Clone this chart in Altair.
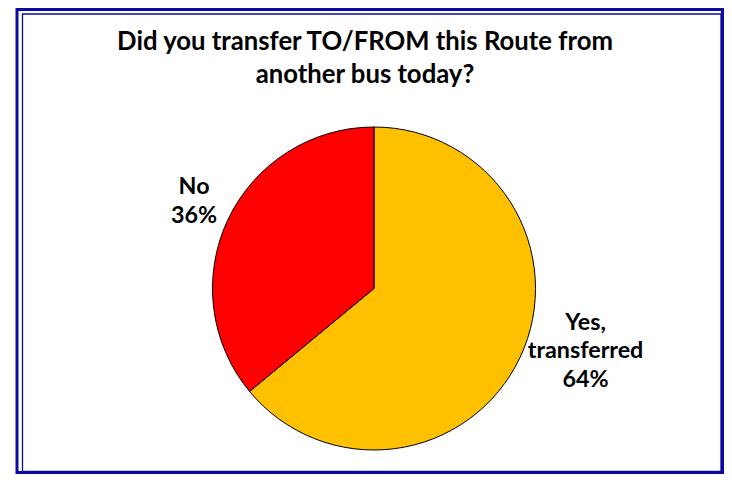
import math
import altair as alt
import pandas as pd

# ---- data ----
categories = ["Yes, transferred", "No"]
shares = [64, 36]
label_names = ["Yes,\ntransferred", "No"]
title_lines = ["Did you transfer TO/FROM this Route from", "another bus today?"]
colors = ["#FFC000", "#FF0000"]

df = pd.DataFrame({
    "category": categories,
    "share": shares,
    "idx": list(range(len(categories))),
    "label": [f"{n}\n{s}%" for n, s in zip(label_names, shares)],
})

W, H = 716, 466
CX, CY, R = 366, 280.5, 161.5
FONT = "Lato"
BLUE = "#0A0AA0"

theta_scale = alt.Scale(domain=[0, sum(shares)], range=[0, 2 * math.pi])

one = pd.DataFrame({"k": [0]})
outer = alt.Chart(one).mark_rect(filled=False, stroke=BLUE, strokeWidth=3).encode(
    x=alt.value(9), x2=alt.value(714.5), y=alt.value(1.5), y2=alt.value(464.5)
)
inner = alt.Chart(one).mark_rect(filled=False, stroke=BLUE, strokeWidth=1.3).encode(
    x=alt.value(14.5), x2=alt.value(713), y=alt.value(6), y2=alt.value(463.5)
)

pie = alt.Chart(df).mark_arc(stroke="black", strokeWidth=1, outerRadius=R).encode(
    theta=alt.Theta("share:Q", stack=True, scale=theta_scale),
    color=alt.Color("category:N", scale=alt.Scale(domain=categories, range=colors), legend=None),
    order=alt.Order("idx:Q"),
    x=alt.value(CX),
    y=alt.value(CY),
)

lab_base = alt.Chart(df).transform_window(
    cum="sum(share)", sort=[alt.SortField("idx")], frame=[None, 0]
).transform_calculate(mid="datum.cum - datum.share / 2")

text_style = dict(font=FONT, fontSize=23.3, fontWeight="bold", lineHeight=28.5,
                  align="center", baseline="middle", lineBreak="\n", color="black")

yes_label = lab_base.transform_filter(alt.datum.idx == 0).mark_text(
    radius=236, dx=-2, dy=-66, **text_style
).encode(
    theta=alt.Theta("mid:Q", scale=theta_scale, stack=None),
    text="label:N", x=alt.value(CX), y=alt.value(CY),
)
no_label = lab_base.transform_filter(alt.datum.idx == 1).mark_text(
    radius=200, dx=1, dy=-16, **text_style
).encode(
    theta=alt.Theta("mid:Q", scale=theta_scale, stack=None),
    text="label:N", x=alt.value(CX), y=alt.value(CY),
)

title = alt.Chart(pd.DataFrame({"t": ["\n".join(title_lines)]})).mark_text(
    font=FONT, fontSize=25.7, fontWeight="bold", lineHeight=33, align="center",
    baseline="alphabetic", lineBreak="\n", color="black"
).encode(text="t:N", x=alt.value(357), y=alt.value(42))

chart = alt.layer(outer, inner, pie, yes_label, no_label, title).resolve_scale(
    theta="shared"
).properties(
    width=W, height=H, autosize="none", padding=0, background="white"
).configure_view(stroke=None)

chart.save("out.html", embed_options={"renderer": "svg", "actions": False})
